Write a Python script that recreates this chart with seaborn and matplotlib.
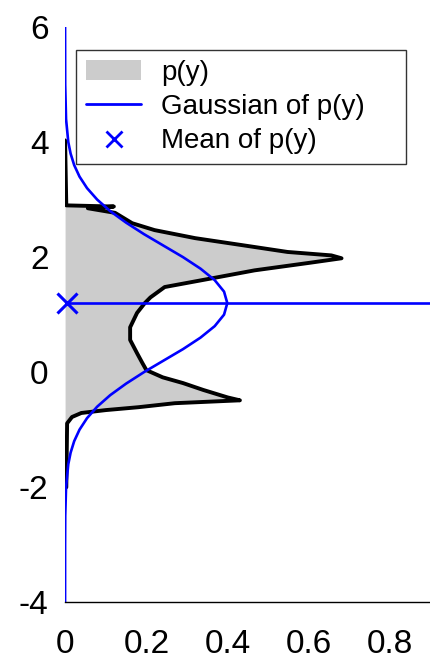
import numpy as np
import matplotlib.pyplot as plt
import seaborn as sns
from matplotlib.patches import Patch
from matplotlib.lines import Line2D

# donnees : densite p(y) (contour de l'histogramme)
py_y = [-2.02, -2.00, -0.89, -0.78, -0.71, -0.66, -0.61, -0.54, -0.49, -0.44,
        -0.31, -0.19, -0.09, 0.035, 0.16, 0.33, 0.56, 0.78, 1.03, 1.20,
        1.30, 1.48, 1.63, 1.77, 1.90, 1.98, 2.03, 2.09, 2.21, 2.33,
        2.47, 2.59, 2.77, 2.85, 2.88, 2.90, 4.03]
py_val = [0.0, 0.003, 0.005, 0.017, 0.04, 0.10, 0.18, 0.27, 0.43, 0.40,
          0.34, 0.29, 0.24, 0.20, 0.19, 0.177, 0.16, 0.16, 0.177, 0.196,
          0.21, 0.245, 0.36, 0.466, 0.60, 0.68, 0.655, 0.547, 0.434, 0.32,
          0.22, 0.165, 0.123, 0.056, 0.12, 0.003, 0.0]

# gaussienne de p(y)
g_y = [-4.0, -3.0, -2.5, -2.0, -1.6, -1.4, -1.2, -1.0, -0.8, -0.6, -0.4, -0.2,
       0.0, 0.2, 0.4, 0.6, 0.8, 1.0, 1.2, 1.4, 1.6, 1.8, 2.0, 2.2, 2.4, 2.6,
       2.8, 3.0, 3.2, 3.4, 3.6, 3.8, 4.0, 4.4, 5.0, 6.0]
g_val = [0.0, 0.00006, 0.0004, 0.0024, 0.0079, 0.0136, 0.0224, 0.0355, 0.054,
         0.079, 0.111, 0.150, 0.194, 0.242, 0.290, 0.333, 0.368, 0.391, 0.399,
         0.391, 0.368, 0.333, 0.290, 0.242, 0.194, 0.150, 0.111, 0.079, 0.054,
         0.0355, 0.0224, 0.0136, 0.0079, 0.0024, 0.0003, 0.0]

mean_y = 1.2

sns.set_theme(style="white")
plt.rcParams['font.family'] = ['Liberation Sans', 'DejaVu Sans']
plt.rcParams['axes.unicode_minus'] = False
plt.rcParams['text.color'] = 'black'

fig = plt.figure(figsize=(4.31, 6.61), dpi=100)
ax = fig.add_axes([0.151, 0.089, 0.849, 0.870])

# 1: histogramme p(y)
ax.fill_betweenx(py_y, 0, py_val, color='#cccccc', linewidth=0)
sns.lineplot(x=py_val, y=py_y, orient='y', sort=False, estimator=None,
             color='black', linewidth=2.8, ax=ax)

# 2: gaussienne et moyenne
sns.lineplot(x=g_val, y=g_y, orient='y', sort=False, estimator=None,
             color='blue', linewidth=1.9, ax=ax)
ax.axhline(mean_y, color='blue', linewidth=1.9)
ax.plot([0.005], [mean_y], marker='x', color='blue', markersize=15,
        markeredgewidth=2.2, linestyle='none', clip_on=False)

# 3: axes
ax.set_xlim(0, 0.9)
ax.set_ylim(-4, 6)
ax.set_xticks([0, 0.2, 0.4, 0.6, 0.8])
ax.set_xticklabels(['0', '0.2', '0.4', '0.6', '0.8'])
ax.set_yticks([-4, -2, 0, 2, 4, 6])
ax.tick_params(axis='x', direction='in', length=7, width=1, pad=19, labelsize=24, colors='black')
ax.tick_params(axis='y', length=0, pad=12, labelsize=24, colors='black')
for s in ['top', 'right', 'left']:
    ax.spines[s].set_visible(False)
ax.spines['bottom'].set_color('black')
ax.spines['bottom'].set_linewidth(1)

# 4: legende
handles = [Patch(facecolor='#cccccc', edgecolor='none'),
           Line2D([], [], color='blue', linewidth=2),
           Line2D([], [], color='blue', marker='x', linestyle='none',
                  markersize=11, markeredgewidth=2)]
leg = ax.legend(handles, ['p(y)', 'Gaussian of p(y)', 'Mean of p(y)'],
                loc='upper left', bbox_to_anchor=(0.03, 0.960, 0.902, 0.0),
                mode='expand', fontsize=20,
                frameon=True, fancybox=False, borderpad=0.35, labelspacing=0.3,
                handlelength=2.0, handletextpad=0.7, borderaxespad=0)
leg.get_frame().set_edgecolor('black')
leg.get_frame().set_linewidth(1)
for t in leg.get_texts():
    t.set_color('black')

plt.savefig('out.png', dpi=100)
